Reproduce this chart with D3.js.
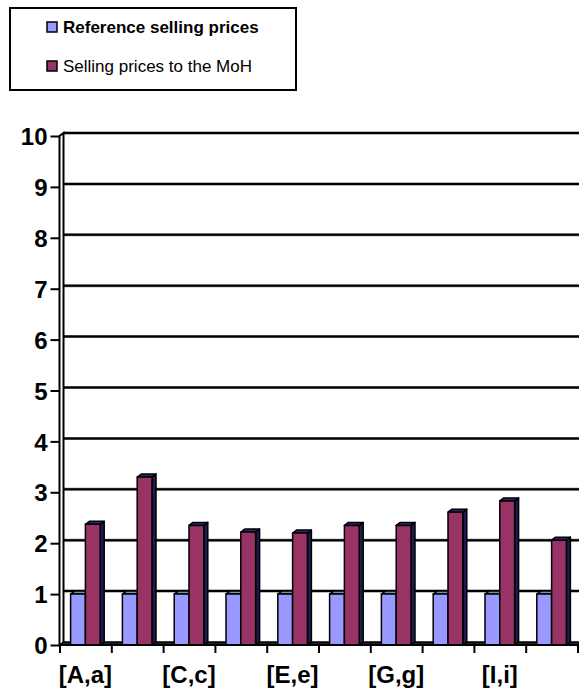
<!DOCTYPE html>
<html>
<head>
<meta charset="utf-8">
<script src="https://cdn.jsdelivr.net/npm/d3@7"></script>
<style>
    body { margin: 0; background: #fff; }
    svg { display: block; font-family: "Liberation Sans", Arial, sans-serif; }
    .tick text { font-weight: bold; fill: #000; }
</style>
</head>
<body>
<div id="chart"></div>
<script>
(function() {
    var categories = ["[A,a]", "[B,b]", "[C,c]", "[D,d]", "[E,e]", "[F,f]", "[G,g]", "[H,h]", "[I,i]", "[J,j]"];
    var seriesNames = ["Reference selling prices", "Selling prices to the MoH"];
    var referencePrices = [1, 1, 1, 1, 1, 1, 1, 1, 1, 1];
    var mohPrices = [2.37, 3.30, 2.35, 2.22, 2.20, 2.35, 2.35, 2.61, 2.83, 2.06];
    var yTicks = [0, 1, 2, 3, 4, 5, 6, 7, 8, 9, 10];

    var width = 579, height = 693;
    var depth = {dx: 4, dy: -3};
    var fontFamily = "'Liberation Sans', Arial, sans-serif";

    // colours: front, side, top
    var colors = [
        {front: "#9999ff", side: "#6666cc", top: "#6f9a9a"},
        {front: "#993366", side: "#1c1c52", top: "#2a2a6e"}
    ];

    var svg = d3.select("#chart").append("svg")
        .attr("width", width)
        .attr("height", height);

    var x0 = d3.scaleBand().domain(categories).range([59.5, 577.5]).padding(0);
    var x1 = d3.scaleBand().domain(seriesNames).range([0, x0.bandwidth()]).paddingInner(0).paddingOuter(0.75);
    var xb = d3.scaleLinear().domain([0, categories.length]).range([59.5, 577.5]);
    var y = d3.scaleLinear().domain([0, 10]).range([645, 136]);

    // back wall gridlines
    var grid = svg.append("g").classed("grid", true);
    grid.selectAll("line.shade")
        .data(yTicks.slice(1))
        .enter()
        .append("line")
            .attr("x1", 59.5 + depth.dx)
            .attr("x2", width)
            .attr("y1", function(d) { return y(d) + depth.dy; })
            .attr("y2", function(d) { return y(d) + depth.dy; })
            .style("stroke", "#777")
            .style("stroke-width", 3);
    grid.selectAll("line.main")
        .data(yTicks.slice(1))
        .enter()
        .append("line")
            .attr("x1", 59.5 + depth.dx)
            .attr("x2", width)
            .attr("y1", function(d) { return y(d) + depth.dy; })
            .attr("y2", function(d) { return y(d) + depth.dy; })
            .style("stroke", "#000")
            .style("stroke-width", 2);

    // left wall
    var wall = svg.append("g").classed("wall", true)
        .style("stroke", "#000").style("stroke-width", 2).style("fill", "none");
    wall.append("path")
        .attr("d", "M" + 59.5 + "," + y(0) + "V" + y(10) +
            "L" + (59.5 + depth.dx) + "," + (y(10) + depth.dy) +
            "V" + (y(0) + depth.dy));

    // floor
    svg.append("path")
        .attr("d", "M59.5," + y(0) + "L" + (59.5 + depth.dx) + "," + (y(0) + depth.dy) +
            "H" + (width + 2) + "V" + y(0) + "Z")
        .style("fill", "#222")
        .style("stroke", "#000")
        .style("stroke-width", 1.5);

    // bars
    var rows = categories.map(function(c, i) {
        return [
            {cat: c, series: seriesNames[0], idx: 0, value: referencePrices[i]},
            {cat: c, series: seriesNames[1], idx: 1, value: mohPrices[i]}
        ];
    });

    var groups = svg.append("g").classed("bars", true)
        .selectAll("g")
        .data(rows)
        .enter()
        .append("g")
            .attr("transform", function(d) { return "translate(" + x0(d[0].cat) + ",0)"; });

    var bars = groups.selectAll("g.bar")
        .data(function(d) { return d; })
        .enter()
        .append("g")
            .classed("bar", true)
            .style("stroke", "#000")
            .style("stroke-width", 1.5)
            .style("stroke-linejoin", "round");

    var w = x1.bandwidth();

    bars.append("path")
        .attr("d", function(d) {
            var x = x1(d.series), yv = y(d.value), yz = y(0);
            return "M" + (x + w) + "," + yv + "L" + (x + w + depth.dx) + "," + (yv + depth.dy) +
                "V" + (yz + depth.dy) + "L" + (x + w) + "," + yz + "Z";
        })
        .style("fill", function(d) { return colors[d.idx].side; });

    bars.append("path")
        .attr("d", function(d) {
            var x = x1(d.series), yv = y(d.value);
            return "M" + x + "," + yv + "L" + (x + depth.dx) + "," + (yv + depth.dy) +
                "H" + (x + w + depth.dx) + "L" + (x + w) + "," + yv + "Z";
        })
        .style("fill", function(d) { return colors[d.idx].top; });

    bars.append("rect")
        .attr("x", function(d) { return x1(d.series); })
        .attr("y", function(d) { return y(d.value); })
        .attr("width", w)
        .attr("height", function(d) { return y(0) - y(d.value); })
        .style("fill", function(d) { return colors[d.idx].front; });

    // front edge of the floor
    svg.append("line")
        .attr("x1", 59.5).attr("x2", width)
        .attr("y1", y(0)).attr("y2", y(0))
        .style("stroke", "#000")
        .style("stroke-width", 2);

    // y axis
    var yAxis = svg.append("g")
        .attr("transform", "translate(59.5,0)")
        .call(d3.axisLeft(y).tickValues(yTicks).tickSize(9).tickPadding(3))
        .attr("font-family", fontFamily);
    yAxis.select(".domain").remove();
    yAxis.selectAll(".tick line").style("stroke", "#000").style("stroke-width", 2);
    yAxis.selectAll(".tick text").style("font-size", "24px").attr("dy", "0.36em");

    // x axis: ticks at boundaries, labels at centres
    var xTickAxis = svg.append("g")
        .attr("transform", "translate(0," + y(0) + ")")
        .call(d3.axisBottom(xb).ticks(categories.length).tickFormat("").tickSize(8));
    xTickAxis.select(".domain").remove();
    xTickAxis.selectAll(".tick line").style("stroke", "#000").style("stroke-width", 2);

    var xLabelAxis = svg.append("g")
        .attr("transform", "translate(0," + y(0) + ")")
        .call(d3.axisBottom(x0).tickSize(0).tickPadding(21)
            .tickFormat(function(d, i) { return i % 2 === 0 ? d : ""; }))
        .attr("font-family", fontFamily);
    xLabelAxis.select(".domain").remove();
    xLabelAxis.selectAll(".tick text").style("font-size", "24px");

    // legend
    var legend = svg.append("g").classed("legend", true);
    legend.append("rect")
        .attr("x", 10).attr("y", 8)
        .attr("width", 286).attr("height", 82)
        .style("fill", "#fff")
        .style("stroke", "#000")
        .style("stroke-width", 2);

    var items = legend.selectAll("g.item")
        .data(seriesNames)
        .enter()
        .append("g")
            .classed("item", true)
            .attr("transform", function(d, i) { return "translate(47," + (22 + i * 39) + ")"; });

    items.append("rect")
        .attr("width", 10).attr("height", 10)
        .style("fill", function(d, i) { return colors[i].front; })
        .style("stroke", "#000")
        .style("stroke-width", 1.5);

    items.append("text")
        .attr("x", 16)
        .attr("y", 11)
        .text(function(d) { return d; })
        .style("font-family", fontFamily)
        .style("font-size", "17px")
        .style("font-weight", function(d, i) { return i === 0 ? "bold" : "normal"; })
        .style("fill", "#000");
})();
</script>
</body>
</html>
